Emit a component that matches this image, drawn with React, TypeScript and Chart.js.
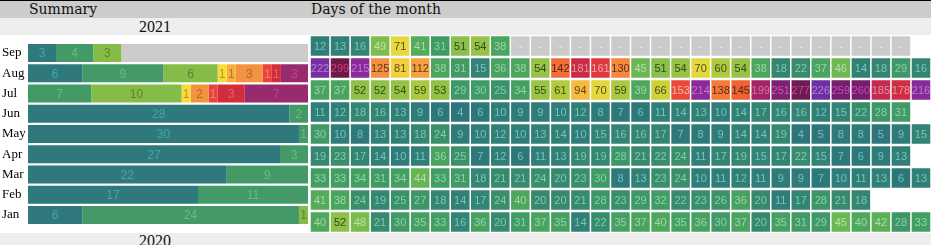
import React, { useEffect, useRef } from 'react';
import { Chart, registerables } from 'chart.js';

Chart.register(...registerables);

// ---------- data ----------
const monthLabels = ['Sep', 'Aug', 'Jul', 'Jun', 'May', 'Apr', 'Mar', 'Feb', 'Jan'];
const daysInMonth = [30, 31, 31, 30, 31, 30, 31, 28, 31];

const sepValues = [12, 13, 16, 49, 71, 41, 31, 51, 54, 38];
const augValues = [222, 299, 215, 125, 81, 112, 38, 31, 15, 36, 38, 54, 142, 181, 161, 130, 45, 51, 54, 70, 60, 54, 38, 18, 22, 37, 46, 14, 18, 29, 16];
const julValues = [37, 37, 52, 52, 54, 59, 53, 29, 30, 25, 34, 55, 61, 94, 70, 59, 39, 66, 153, 214, 138, 145, 199, 251, 277, 226, 259, 260, 185, 178, 216];
const junValues = [11, 12, 18, 16, 13, 9, 6, 4, 6, 10, 9, 9, 10, 12, 8, 7, 6, 11, 14, 13, 10, 14, 17, 16, 16, 12, 15, 22, 28, 31];
const mayValues = [30, 10, 8, 13, 13, 18, 24, 9, 10, 12, 10, 13, 14, 10, 15, 16, 16, 17, 7, 8, 9, 14, 14, 19, 4, 5, 8, 8, 5, 9, 15];
const aprValues = [19, 23, 17, 14, 10, 11, 36, 25, 7, 12, 6, 11, 13, 19, 19, 28, 21, 22, 24, 11, 17, 19, 15, 17, 22, 15, 7, 6, 9, 13];
const marValues = [33, 33, 34, 31, 34, 44, 33, 31, 18, 21, 21, 24, 20, 23, 30, 8, 13, 23, 24, 10, 11, 12, 11, 9, 9, 7, 10, 11, 13, 6, 13];
const febValues = [41, 38, 24, 19, 25, 27, 18, 14, 17, 24, 40, 20, 20, 21, 28, 23, 29, 32, 22, 23, 26, 36, 20, 11, 17, 28, 21, 18];
const janValues = [40, 52, 48, 21, 30, 35, 33, 16, 36, 20, 31, 37, 35, 14, 22, 35, 37, 40, 35, 36, 30, 37, 20, 35, 31, 29, 45, 40, 42, 28, 33];

const monthValues = [sepValues, augValues, julValues, junValues, mayValues, aprValues, marValues, febValues, janValues];

// summary bins (lower bounds)
const binLower = [0, 25, 50, 75, 100, 125, 150, 175, 200];
const binColors = ['#2f787b', '#449a67', '#85bc48', '#fbdb3c', '#f6b03e', '#f3933f', '#e9443b', '#d22d3b', '#972b6d'];
const noDataColor = '#cbcbcb';

// continuous colour scale for day cells
const scaleValues = [0, 6, 12, 18, 25, 30, 35, 40, 44, 48, 52, 57, 62, 67, 71, 85, 100, 115, 125, 138, 145, 153, 162, 180, 190, 200, 214, 220, 226, 240, 252, 262, 278, 300];
const scaleColors = ['#2b717c', '#2e7779', '#317e77', '#358572', '#3b9169', '#3f9a66', '#45a161', '#4ea85c', '#66b553', '#7abb4e', '#8ec04a', '#a2c642', '#b6cc3c', '#d0d23a', '#e8d840', '#f5cc3e', '#f7b03e', '#f69c40', '#f59040', '#f47a38', '#ee6234', '#e84a3a', '#df3640', '#cc2c44', '#b82a58', '#9e2468', '#8a2a96', '#7e30a0', '#6c30a4', '#742878', '#7a2070', '#701e68', '#6c1c52', '#6c1a44'];

// ---------- helpers ----------
function hexToRgb(h: string): number[] {
  const n = parseInt(h.slice(1), 16);
  return [(n >> 16) & 255, (n >> 8) & 255, n & 255];
}
function rgbToHex(r: number, g: number, b: number): string {
  return '#' + [r, g, b].map((x) => Math.max(0, Math.min(255, Math.round(x))).toString(16).padStart(2, '0')).join('');
}
function lighten(hex: string, amt: number): string {
  const [r, g, b] = hexToRgb(hex).map((x) => x / 255);
  const max = Math.max(r, g, b), min = Math.min(r, g, b);
  let h = 0, s = 0;
  const l = (max + min) / 2;
  if (max !== min) {
    const d = max - min;
    s = l > 0.5 ? d / (2 - max - min) : d / (max + min);
    if (max === r) h = (g - b) / d + (g < b ? 6 : 0);
    else if (max === g) h = (b - r) / d + 2;
    else h = (r - g) / d + 4;
    h /= 6;
  }
  const nl = Math.min(1, l + amt);
  if (s === 0) return rgbToHex(nl * 255, nl * 255, nl * 255);
  const hue2rgb = (p: number, q: number, t: number) => {
    if (t < 0) t += 1;
    if (t > 1) t -= 1;
    if (t < 1 / 6) return p + (q - p) * 6 * t;
    if (t < 1 / 2) return q;
    if (t < 2 / 3) return p + (q - p) * (2 / 3 - t) * 6;
    return p;
  };
  const q = nl < 0.5 ? nl * (1 + s) : nl + s - nl * s;
  const p = 2 * nl - q;
  return rgbToHex(hue2rgb(p, q, h + 1 / 3) * 255, hue2rgb(p, q, h) * 255, hue2rgb(p, q, h - 1 / 3) * 255);
}
function darken(hex: string, f: number): string {
  const [r, g, b] = hexToRgb(hex);
  return rgbToHex(r * f, g * f, b * f);
}
function binOf(v: number): number {
  let b = 0;
  for (let i = 0; i < binLower.length; i++) if (v >= binLower[i]) b = i;
  return b;
}
function colorFor(v: number): string {
  if (v <= scaleValues[0]) return scaleColors[0];
  for (let i = 1; i < scaleValues.length; i++) {
    if (v <= scaleValues[i]) {
      const t = (v - scaleValues[i - 1]) / (scaleValues[i] - scaleValues[i - 1]);
      const a = hexToRgb(scaleColors[i - 1]);
      const b = hexToRgb(scaleColors[i]);
      return rgbToHex(a[0] + (b[0] - a[0]) * t, a[1] + (b[1] - a[1]) * t, a[2] + (b[2] - a[2]) * t);
    }
  }
  return scaleColors[scaleColors.length - 1];
}
const isDarkText = (v: number) => v >= 50 && v < 150;

// ---------- derived ----------
const binCounts = monthValues.map((vals) => {
  const c = binLower.map(() => 0);
  vals.forEach((v) => c[binOf(v)]++);
  return c;
});

export default function App() {
  const sumRef = useRef<HTMLCanvasElement>(null);
  const heatRef = useRef<HTMLCanvasElement>(null);

  useEffect(() => {
    document.body.style.margin = '0';

    const summaryDatasets: any[] = binColors.map((col, b) => ({
      label: 'bin' + b,
      data: monthValues.map((_, m) => binCounts[m][b] / daysInMonth[m]),
      counts: monthValues.map((_, m) => binCounts[m][b]),
      textColor: b >= 2 && b <= 5 ? darken(col, 0.7) : lighten(col, 0.13),
      backgroundColor: col,
      borderWidth: 0,
      stack: 's',
    }));
    summaryDatasets.push({
      label: 'nodata',
      data: monthValues.map((vals, m) => (daysInMonth[m] - vals.length) / daysInMonth[m]),
      counts: null,
      backgroundColor: noDataColor,
      borderWidth: 0,
      stack: 's',
    });

    const summaryLabels = {
      id: 'summaryLabels',
      afterDatasetsDraw(chart: any) {
        const ctx = chart.ctx;
        ctx.save();
        ctx.font = '12px "Liberation Sans", Arial, sans-serif';
        ctx.textAlign = 'center';
        ctx.textBaseline = 'middle';
        chart.data.datasets.forEach((ds: any, i: number) => {
          if (!ds.counts) return;
          const meta = chart.getDatasetMeta(i);
          meta.data.forEach((el: any, m: number) => {
            const c = ds.counts[m];
            if (!c) return;
            const p = el.getCenterPoint();
            ctx.fillStyle = ds.textColor;
            ctx.fillText(String(c), p.x, p.y + 1);
          });
        });
        ctx.restore();
      },
    };

    const c1 = new Chart(sumRef.current as HTMLCanvasElement, {
      type: 'bar',
      data: { labels: monthLabels, datasets: summaryDatasets },
      options: {
        indexAxis: 'y',
        responsive: false,
        maintainAspectRatio: false,
        animation: false,
        layout: { padding: { left: 2, right: 0, top: 0, bottom: 0 } },
        datasets: { bar: { categoryPercentage: 1, barPercentage: 0.886, inflateAmount: 0 } } as any,
        plugins: { legend: { display: false }, tooltip: { enabled: false } },
        scales: {
          x: { stacked: true, min: 0, max: 1, display: false },
          y: {
            stacked: true,
            grid: { display: false },
            border: { display: false },
            ticks: { crossAlign: 'far', padding: 0, color: '#000', font: { family: '"Liberation Serif", serif', size: 13 } },
            afterFit: (scale: any) => { scale.width = 26; },
          },
        },
      } as any,
      plugins: [summaryLabels],
    });

    const dayDatasets: any[] = [];
    for (let d = 0; d < 31; d++) {
      dayDatasets.push({
        label: 'day' + (d + 1),
        data: monthValues.map((vals, m) => (d < daysInMonth[m] ? 1 : null)),
        values: monthValues.map((vals, m) => (d < daysInMonth[m] ? (d < vals.length ? vals[d] : '-') : null)),
        backgroundColor: monthValues.map((vals, m) => (d < vals.length ? colorFor(vals[d]) : noDataColor)),
        borderColor: '#ffffff',
        borderWidth: 0.75,
        borderSkipped: false,
        inflateAmount: 0,
        stack: 'd',
      });
    }

    const dayLabels = {
      id: 'dayLabels',
      afterDatasetsDraw(chart: any) {
        const ctx = chart.ctx;
        ctx.save();
        ctx.font = '11px "Liberation Sans", Arial, sans-serif';
        ctx.textAlign = 'center';
        ctx.textBaseline = 'middle';
        chart.data.datasets.forEach((ds: any, i: number) => {
          const meta = chart.getDatasetMeta(i);
          meta.data.forEach((el: any, m: number) => {
            const v = ds.values[m];
            if (v === null || v === undefined) return;
            const p = el.getCenterPoint();
            if (v === '-') {
              ctx.fillStyle = '#e8e8e8';
            } else {
              const bg = colorFor(v);
              ctx.fillStyle = isDarkText(v) ? darken(bg, 0.38) : lighten(bg, 0.26);
            }
            ctx.fillText(String(v), p.x, p.y + 1);
          });
        });
        ctx.restore();
      },
    };

    const c2 = new Chart(heatRef.current as HTMLCanvasElement, {
      type: 'bar',
      data: { labels: monthLabels, datasets: dayDatasets },
      options: {
        indexAxis: 'y',
        responsive: false,
        maintainAspectRatio: false,
        animation: false,
        layout: { padding: 0 },
        datasets: { bar: { categoryPercentage: 1, barPercentage: 0.955 } } as any,
        plugins: { legend: { display: false }, tooltip: { enabled: false } },
        scales: {
          x: { stacked: true, min: 0, max: 31, display: false },
          y: { stacked: true, display: false },
        },
      } as any,
      plugins: [dayLabels],
    });

    return () => {
      c1.destroy();
      c2.destroy();
    };
  }, []);

  const serifHead = '14px "DejaVu Serif", serif';
  const serifYear = '16px "Liberation Serif", serif';

  return (
    <div style={{ position: 'relative', width: 931, height: 245, overflow: 'hidden', background: '#ffffff' }}>
      <div style={{ position: 'absolute', left: 0, top: 0, width: 931, height: 18, background: '#cccccc', borderTop: '1px solid #000', boxSizing: 'border-box' }} />
      <div style={{ position: 'absolute', left: 29, top: 1, font: serifHead, lineHeight: '17px', color: '#111', whiteSpace: 'nowrap' }}>Summary</div>
      <div style={{ position: 'absolute', left: 311, top: 1, font: serifHead, lineHeight: '17px', color: '#111', whiteSpace: 'nowrap' }}>Days of the month</div>
      <div style={{ position: 'absolute', left: 0, top: 18, width: 931, height: 16.5, background: '#eeeeee' }} />
      <div style={{ position: 'absolute', left: 0, top: 17, width: 310, textAlign: 'center', font: serifYear, lineHeight: '19px', color: '#111' }}>2021</div>
      <div style={{ position: 'absolute', left: 0, top: 232.5, width: 931, height: 13, background: '#eeeeee' }} />
      <div style={{ position: 'absolute', left: 0, top: 231, width: 310, textAlign: 'center', font: serifYear, lineHeight: '19px', color: '#111' }}>2020</div>
      <canvas ref={sumRef} width={308} height={198} style={{ position: 'absolute', left: 0, top: 35, width: 308, height: 198, display: 'block' }} />
      <canvas ref={heatRef} width={621} height={198} style={{ position: 'absolute', left: 310, top: 35, width: 621, height: 198, display: 'block' }} />
    </div>
  );
}
